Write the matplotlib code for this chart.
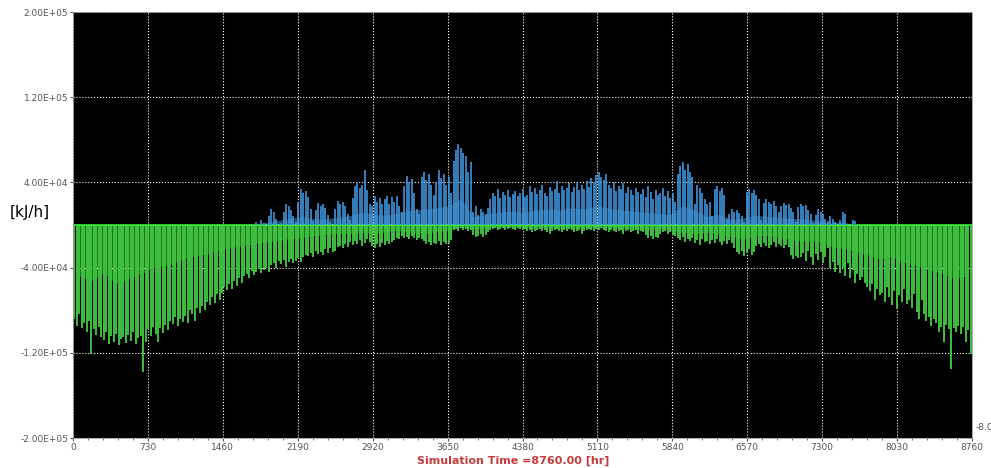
import numpy as np
import matplotlib
matplotlib.use("Agg")
import matplotlib.pyplot as plt

# daily peak heating load (kJ/h, thousands) - green, negative
heating_peak = [
    -88, -95, -84, -97, -92, -100, -90, -121, -98, -103,
    -96, -105, -108, -100, -112, -104, -110, -102, -113, -107,
    -105, -111, -103, -109, -100, -112, -106, -104, -138, -110,
    -98, -104, -96, -102, -110, -97, -101, -94, -99, -90,
    -93, -86, -95, -88, -91, -85, -92, -80, -84, -90,
    -78, -83, -76, -80, -72, -75, -68, -73, -65, -70,
    -64, -58, -61, -55, -60, -53, -57, -50, -54, -48,
    -46, -50, -43, -47, -44, -41, -45, -42, -40, -44,
    -38, -36, -40, -34, -37, -33, -39, -35, -32, -36,
    -34, -31, -35, -30, -28, -29, -26, -30, -24, -27,
    -25, -28, -23, -26, -22, -25, -24, -21, -20, -22,
    -18, -21, -16, -19, -15, -18, -14, -20, -17, -13,
    -16, -20, -22, -18, -21, -17, -19, -15, -18, -16,
    -14, -12, -13, -10, -12, -11, -13, -10, -12, -14,
    -12, -13, -15, -18, -16, -19, -17, -18, -15, -19,
    -16, -18, -17, -14, -5, -4, -6, -3, -5, -4,
    -6, -5, -9, -11, -10, -8, -11, -9, -7, -5,
    -4, -3, -5, -4, -3, -5, -4, -3, -4, -5,
    -3, -4, -5, -4, -6, -5, -7, -6, -5, -4,
    -6, -5, -7, -8, -6, -5, -4, -6, -7, -5,
    -6, -4, -5, -7, -6, -5, -8, -6, -5, -4,
    -5, -6, -4, -5, -3, -5, -6, -7, -5, -6,
    -7, -6, -5, -8, -6, -5, -7, -6, -5, -8,
    -6, -7, -9, -12, -10, -13, -11, -12, -8, -7,
    -6, -8, -7, -9, -10, -12, -14, -11, -16, -13,
    -15, -12, -17, -14, -19, -13, -16, -15, -18, -14,
    -17, -13, -16, -19, -15, -18, -14, -17, -22, -25,
    -27, -24, -29, -26, -23, -28, -25, -20, -18, -21,
    -17, -20, -22, -19, -16, -21, -18, -20, -22, -19,
    -21, -28, -32, -29, -31, -30, -26, -34, -24, -30,
    -38, -27, -33, -25, -36, -30, -22, -40, -35, -44,
    -38, -45, -40, -48, -36, -50, -42, -54, -46, -52,
    -49, -54, -58, -62, -55, -70, -60, -66, -64, -72,
    -58, -68, -75, -62, -79, -66, -72, -60, -74, -70,
    -78, -65, -82, -88, -70, -84, -90, -86, -95, -88,
    -92, -100, -96, -110, -94, -98, -135, -97, -100, -95,
    -102, -96, -110, -99, -121,
]

# daily peak cooling load (kJ/h, thousands) - blue, positive
cooling_peak = [
    0, 0, 0, 0, 0, 0, 0, 0, 0, 0,
    0, 0, 0, 0, 0, 0, 0, 0, 0, 0,
    0, 0, 0, 0, 0, 0, 0, 0, 0, 0,
    0, 0, 0, 0, 0, 0, 0, 0, 0, 0,
    0, 0, 0, 0, 0, 0, 0, 0, 0, 0,
    0, 0, 0, 0, 0, 0, 0, 0, 0, 0,
    0, 0, 0, 0, 0, 0, 0, 0, 0, 0,
    0, 0, 0, 0, 3, 0, 5, 2, 0, 8,
    15, 12, 6, 0, 2, 12, 20, 18, 14, 8,
    3, 22, 34, 30, 32, 26, 15, 4, 14, 21,
    18, 20, 16, 9, 3, 0, 15, 23, 20, 22,
    18, 10, 5, 25, 37, 40, 35, 38, 52, 33,
    20, 18, 27, 22, 25, 20, 24, 27, 20, 26,
    22, 27, 18, 12, 37, 46, 40, 43, 30, 15,
    10, 45, 50, 42, 48, 38, 28, 40, 52, 44,
    48, 38, 45, 30, 60, 70, 76, 72, 68, 65,
    50, 59, 12, 18, 9, 15, 12, 10, 16, 24,
    30, 27, 34, 25, 31, 28, 33, 26, 29, 32,
    27, 30, 34, 26, 28, 37, 31, 35, 29, 33,
    38, 30, 27, 36, 32, 34, 41, 30, 37, 33,
    35, 39, 31, 36, 40, 33, 38, 34, 41, 36,
    44, 40, 47, 50, 45, 42, 48, 38, 35, 40,
    32, 37, 34, 39, 30, 36, 33, 28, 35, 31,
    29, 34, 26, 37, 31, 24, 33, 28, 30, 35,
    27, 32, 25, 30, 22, 48, 55, 59, 52, 57,
    50, 45, 20, 38, 35, 30, 24, 20, 22, 8,
    34, 37, 32, 35, 28, 6, 10, 15, 12, 14,
    11, 8, 3, 31, 34, 30, 33, 28, 24, 5,
    21, 24, 22, 20, 23, 18, 12, 18, 21, 19,
    20, 16, 12, 3, 17, 20, 18, 19, 14, 10,
    2, 9, 15, 12, 10, 6, 4, 8, 6, 3,
    0, 5, 12, 10, 0, 0, 5, 4, 0, 0,
    0, 0, 0, 0, 0, 0, 0, 0, 0, 0,
    0, 0, 0, 0, 0, 0, 0, 0, 0, 0,
    0, 0, 0, 0, 0, 0, 0, 0, 0, 0,
    0, 0, 0, 0, 0, 0, 0, 0, 0, 0,
    0, 0, 0, 0, 0,
]

# dense (typical) load level, 5-day steps (kJ/h, thousands)
heating_band = [
    -48, -52, -45, -55, -50, -46,
    -40, -38, -34, -30, -28, -25,
    -22, -20, -18, -16, -15, -13,
    -12, -10, -9, -8, -8, -7,
    -8, -6, -5, -7, -8, -6,
    -5, -2, -4, -3, -2, -2,
    -2, -3, -2, -3, -3, -2,
    -3, -2, -3, -4, -5, -3,
    -5, -7, -8, -7, -9, -11,
    -13, -10, -10, -12, -14, -15,
    -16, -20, -22, -25, -28, -32,
    -30, -35, -38, -42, -45, -50, -48,
]
cooling_band = [
    0, 0, 0, 0, 0, 0, 0, 0, 0, 0,
    0, 0, 0, 0, 0, 2, 4, 6, 8, 6,
    6, 7, 9, 12, 10, 9, 12, 14, 15, 16,
    18, 25, 8, 10, 12, 13, 12, 14, 15, 14,
    16, 15, 18, 16, 14, 13, 12, 11, 10, 18,
    14, 8, 10, 5, 7, 9, 8, 7, 6, 6,
    4, 2, 3, 0, 0, 0, 0, 0, 0, 0,
    0, 0, 0,
]

x_ticks = list(range(0, 8761, 730))
y_ticks = [-2.0e5, -1.2e5, -4.0e4, 4.0e4, 1.2e5, 2.0e5]

day_hours = np.arange(len(heating_peak)) * 24 + 12
band_hours = np.arange(len(heating_band)) * 120 + 60

fig = plt.figure(figsize=(9.91, 4.68), dpi=100)
ax = fig.add_axes([73 / 991, 30 / 468, 899 / 991, 426 / 468])
ax.set_facecolor('black')

ax.vlines(day_hours, np.array(heating_peak) * 1000, 0, colors='#3fc03f', lw=1.4)
ax.fill_between(band_hours, np.array(heating_band) * 1000, 0, color='#3cee3c', lw=0, alpha=0.5)
ax.axhline(0, color='#3cee3c', lw=1.2)
ax.vlines(day_hours, np.array(cooling_peak) * 1000, 0, colors='#3e95dc', lw=1.2)
ax.fill_between(band_hours, np.array(cooling_band) * 1000, 0, color='#5aa4e4', lw=0, alpha=0.45)

ax.set_xlim(0, 8760)
ax.set_ylim(-2.0e5, 2.0e5)
ax.set_xticks(x_ticks)
ax.set_xticks(range(0, 8761, 146), minor=True)
ax.set_yticks(y_ticks)
ax.set_yticklabels([f"{v:.2E}" for v in y_ticks])
ax.tick_params(labelsize=6.5, colors='#555555', length=2, pad=1.5)
ax.tick_params(which='minor', length=1.5, colors='#555555')
ax.grid(color='white', ls=':', lw=0.8)
for s in ax.spines.values():
    s.set_color('#999999')
    s.set_linewidth(0.6)

fig.text(10 / 991, 1 - 213 / 468, "[kJ/h]", fontsize=11, va='center', ha='left')
fig.text(976 / 991, 1 - 427 / 468, "-8.00", fontsize=6.5, color='#555555', va='center', ha='left')
fig.text(513 / 991, 1 - 461 / 468, "Simulation Time =8760.00 [hr]", fontsize=8,
         color='#c43c3c', fontweight='bold', ha='center', va='center')

fig.savefig("out.png", dpi=100, facecolor='white')
